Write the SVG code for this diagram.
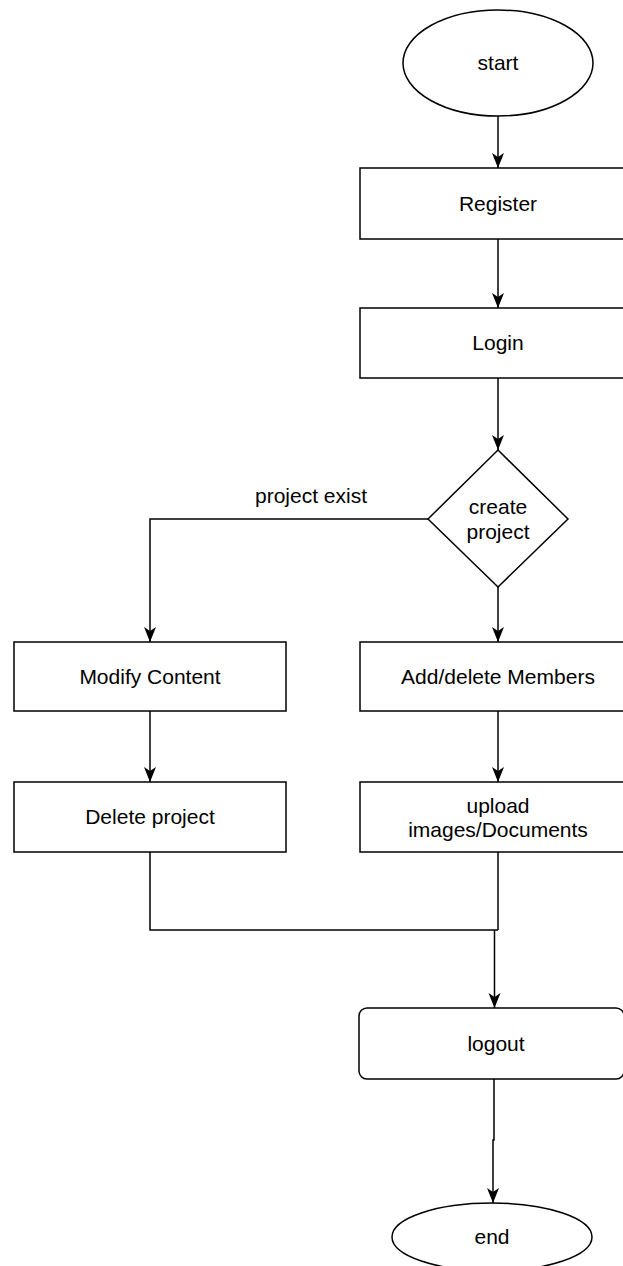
<svg xmlns="http://www.w3.org/2000/svg" width="623" height="1266" viewBox="0 0 623 1266">
<style>
.shape{fill:#fff;stroke:#000;stroke-width:1.5}
.edge{fill:none;stroke:#000;stroke-width:1.5}
text{font-family:"Liberation Sans",Arial,sans-serif;font-size:21px;fill:#000;text-anchor:middle}
</style>
<defs>
<marker id="arr" markerUnits="userSpaceOnUse" markerWidth="16" markerHeight="16" viewBox="-8 -16 16 16" refX="0" refY="0" orient="auto-start-reverse" overflow="visible">
<path d="M0 0 L-6 -15 L0 -11 L6 -15 Z" fill="#000" transform="rotate(-90)"/>
</marker>
</defs>
<rect width="623" height="1266" fill="#fff"/>
<g id="connectors">
<path class="edge" d="M498 116 V168" marker-end="url(#arr)"/>
<path class="edge" d="M498 239 V308" marker-end="url(#arr)"/>
<path class="edge" d="M498 378 V450" marker-end="url(#arr)"/>
<path class="edge" d="M498 587 V642" marker-end="url(#arr)"/>
<path class="edge" d="M428 519 H150 V642" marker-end="url(#arr)"/>
<path class="edge" d="M150 711 V782" marker-end="url(#arr)"/>
<path class="edge" d="M498 711 V782" marker-end="url(#arr)"/>
<path class="edge" d="M150 852 V930 H498"/>
<path class="edge" d="M498 852 V930"/>
<path class="edge" d="M494.5 930 V1008" marker-end="url(#arr)"/>
<path class="edge" d="M494 1079 V1140 H493 V1203" marker-end="url(#arr)"/>
<text x="311" y="503">project exist</text>
</g>
<g id="start">
<ellipse class="shape" cx="498" cy="63" rx="95" ry="53"/>
<text x="498" y="70">start</text>
</g>
<g id="register">
<rect class="shape" x="360" y="168" width="276" height="71"/>
<text x="498" y="211">Register</text>
</g>
<g id="login">
<rect class="shape" x="360" y="308" width="276" height="70"/>
<text x="498" y="350">Login</text>
</g>
<g id="create">
<path class="shape" d="M498 450 L568 519 L498 587 L428 519 Z"/>
<text x="498" y="514">create</text>
<text x="498" y="539">project</text>
</g>
<g id="modify">
<rect class="shape" x="14" y="642" width="272" height="69"/>
<text x="150" y="684">Modify Content</text>
</g>
<g id="addmembers">
<rect class="shape" x="360" y="642" width="276" height="69"/>
<text x="498" y="684">Add/delete Members</text>
</g>
<g id="delete">
<rect class="shape" x="14" y="782" width="272" height="70"/>
<text x="150" y="824">Delete project</text>
</g>
<g id="upload">
<rect class="shape" x="360" y="782" width="276" height="70"/>
<text x="498" y="813">upload</text>
<text x="498" y="837">images/Documents</text>
</g>
<g id="logout">
<rect class="shape" x="359" y="1008" width="265" height="71" rx="8"/>
<text x="496" y="1051">logout</text>
</g>
<g id="end">
<ellipse class="shape" cx="492" cy="1237" rx="100" ry="34"/>
<text x="492" y="1244">end</text>
</g>
</svg>
